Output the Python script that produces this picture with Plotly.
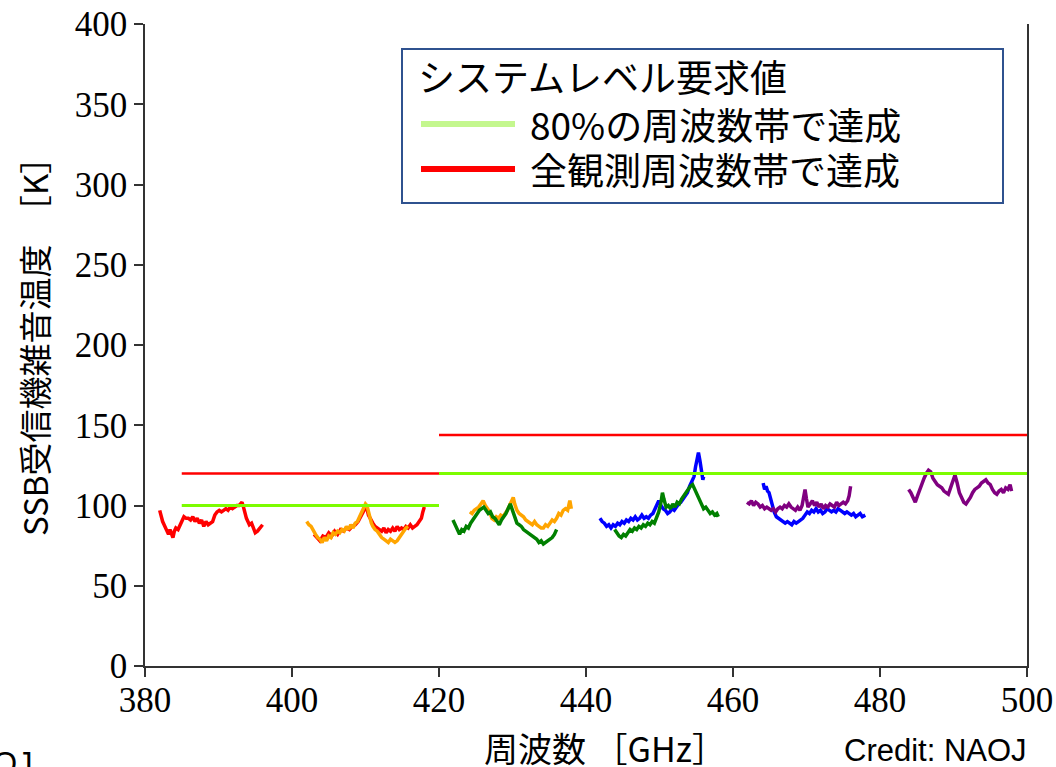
import plotly.graph_objects as go

# ---------------- data ----------------
red1_x = [382.0, 382.2, 382.4, 382.6, 382.8, 383.0, 383.2, 383.4, 383.6, 383.8, 384.0, 384.2, 384.5, 384.8, 385.0, 385.3, 385.6, 385.9, 386.2, 386.5, 386.8, 387.1, 387.4, 387.7, 388.0, 388.3, 388.6, 388.9, 389.2, 389.5, 389.8, 390.1, 390.4, 390.7, 391.0, 391.3, 391.6, 391.9, 392.2, 392.5, 392.8, 393.0, 393.2, 393.4, 393.6, 393.8, 394.0, 394.2, 394.5, 394.8, 395.0, 395.3, 395.6, 396.0]
red1_y = [97, 93, 90, 88, 86, 84, 82, 85, 83, 80, 84, 86, 85, 88, 90, 93, 92, 92, 91, 93, 90, 92, 89, 91, 87, 90, 88, 89, 90, 94, 96, 97, 96, 97, 98, 97, 99, 98, 99, 100, 100, 101, 102, 99, 95, 92, 90, 88, 89, 85, 83, 84, 86, 88]

red2_x = [403.0, 403.4, 403.8, 404.2, 404.6, 405.0, 405.4, 405.8, 406.2, 406.6, 407.0, 407.4, 407.8, 408.2, 408.6, 409.0, 409.4, 409.8, 410.0, 410.2, 410.4, 410.7, 411.0, 411.3, 411.6, 411.9, 412.2, 412.5, 412.8, 413.1, 413.4, 413.7, 414.0, 414.3, 414.6, 414.9, 415.2, 415.5, 415.8, 416.1, 416.4, 416.7, 417.0, 417.3, 417.6, 417.8, 418.0]
red2_y = [82, 80, 78, 81, 80, 83, 81, 84, 82, 85, 84, 86, 85, 87, 88, 90, 93, 97, 100, 98, 94, 91, 89, 87, 86, 85, 84, 86, 83, 85, 84, 86, 84, 87, 85, 86, 85, 87, 86, 88, 86, 87, 88, 90, 92, 96, 99]

orange1_x = [402.0, 402.3, 402.6, 402.9, 403.2, 403.5, 403.8, 404.1, 404.4, 404.7, 405.0, 405.3, 405.6, 405.9, 406.2, 406.5, 406.8, 407.1, 407.4, 407.7, 408.0, 408.3, 408.6, 408.9, 409.2, 409.5, 409.8, 410.0, 410.2, 410.4, 410.6, 410.8, 411.0, 411.3, 411.6, 411.9, 412.2, 412.5, 412.8, 413.1, 413.4, 413.7, 414.0, 414.3, 414.6, 414.9, 415.2, 415.5, 415.8]
orange1_y = [90, 88, 87, 84, 82, 80, 79, 77, 80, 78, 81, 80, 83, 82, 84, 83, 85, 84, 87, 85, 88, 86, 89, 90, 93, 96, 99, 101, 100, 96, 92, 89, 87, 85, 84, 82, 80, 79, 78, 77, 79, 78, 77, 78, 80, 82, 84, 86, 87]

orange2_x = [424.2, 424.5, 424.8, 425.1, 425.4, 425.7, 426.0, 426.3, 426.6, 426.9, 427.2, 427.5, 427.8, 428.1, 428.4, 428.7, 429.0, 429.3, 429.6, 429.9, 430.1, 430.3, 430.6, 430.9, 431.2, 431.5, 431.8, 432.1, 432.4, 432.7, 433.0, 433.3, 433.6, 433.9, 434.2, 434.5, 434.8, 435.1, 435.4, 435.7, 436.0, 436.3, 436.6, 436.9, 437.2, 437.5, 437.8, 438.0]
orange2_y = [96, 95, 97, 98, 99, 101, 103, 100, 98, 96, 92, 91, 93, 92, 94, 93, 95, 97, 100, 103, 105, 101, 97, 95, 94, 93, 91, 90, 89, 88, 90, 88, 87, 86, 86, 88, 87, 89, 91, 90, 92, 95, 94, 97, 98, 97, 103, 98]

green1_x = [421.9, 422.2, 422.5, 422.8, 423.1, 423.4, 423.7, 424.0, 424.3, 424.6, 424.9, 425.2, 425.5, 425.8, 426.1, 426.4, 426.7, 427.0, 427.3, 427.6, 427.9, 428.2, 428.5, 428.8, 429.1, 429.4, 429.7, 430.0, 430.3, 430.6, 430.9, 431.2, 431.5, 431.8, 432.1, 432.4, 432.7, 433.0, 433.3, 433.6, 433.9, 434.2, 434.5, 434.8, 435.1, 435.4, 435.7, 436.0]
green1_y = [91, 88, 84, 82, 85, 84, 87, 86, 89, 91, 93, 95, 97, 98, 99, 97, 95, 96, 93, 92, 90, 88, 91, 93, 95, 98, 101, 97, 92, 89, 88, 87, 85, 84, 83, 82, 81, 80, 79, 77, 78, 76, 77, 78, 79, 80, 82, 85]

blue1_x = [441.9, 442.2, 442.5, 442.8, 443.1, 443.4, 443.7, 444.0, 444.3, 444.6, 444.9, 445.2, 445.5, 445.8, 446.1, 446.4, 446.7, 447.0, 447.3, 447.6, 447.9, 448.2, 448.5, 448.8, 449.1, 449.4, 449.7, 449.9, 450.2, 450.5, 450.8, 451.1, 451.4, 451.7, 452.0, 452.3, 452.6, 452.9, 453.2, 453.5, 453.8, 454.1, 454.4, 454.7, 454.9, 455.1, 455.3, 455.5, 455.7, 455.9, 456.0]
blue1_y = [92, 90, 89, 87, 88, 86, 88, 87, 89, 88, 90, 89, 91, 90, 92, 91, 93, 91, 92, 94, 92, 93, 92, 94, 95, 98, 101, 103, 100, 98, 97, 95, 96, 98, 97, 99, 101, 102, 104, 106, 108, 112, 115, 118, 124, 130, 133, 128, 120, 116, 118]

green2_x = [443.9, 444.2, 444.5, 444.8, 445.1, 445.4, 445.7, 446.0, 446.3, 446.6, 446.9, 447.2, 447.5, 447.8, 448.1, 448.4, 448.7, 449.0, 449.3, 449.6, 449.9, 450.2, 450.4, 450.6, 450.9, 451.2, 451.5, 451.8, 452.1, 452.4, 452.7, 453.0, 453.3, 453.6, 453.9, 454.2, 454.5, 454.8, 455.1, 455.4, 455.7, 456.0, 456.3, 456.6, 456.9, 457.2, 457.5, 457.8, 458.0]
green2_y = [85, 83, 81, 80, 82, 81, 83, 85, 84, 86, 85, 87, 86, 88, 87, 89, 88, 90, 89, 92, 96, 102, 108, 104, 99, 100, 98, 101, 99, 102, 101, 104, 106, 108, 110, 112, 113, 110, 106, 103, 100, 98, 99, 97, 95, 96, 94, 95, 93]

blue2_x = [464.1, 464.3, 464.5, 464.7, 464.9, 465.1, 465.3, 465.6, 465.9, 466.2, 466.5, 466.8, 467.1, 467.4, 467.7, 468.0, 468.3, 468.6, 468.9, 469.2, 469.5, 469.8, 470.1, 470.4, 470.7, 471.0, 471.3, 471.6, 471.9, 472.2, 472.5, 472.8, 473.1, 473.4, 473.7, 474.0, 474.3, 474.6, 474.9, 475.2, 475.5, 475.8, 476.1, 476.4, 476.7, 477.0, 477.3, 477.6, 478.0]
blue2_y = [114, 110, 112, 109, 108, 104, 100, 96, 93, 92, 91, 90, 89, 90, 89, 88, 90, 89, 90, 91, 92, 94, 96, 95, 97, 96, 98, 96, 97, 95, 96, 98, 97, 96, 97, 96, 98, 97, 96, 95, 96, 95, 94, 95, 93, 94, 95, 93, 94]

purple1_x = [461.9, 462.2, 462.5, 462.8, 463.1, 463.4, 463.7, 464.0, 464.3, 464.6, 464.9, 465.2, 465.5, 465.8, 466.1, 466.4, 466.7, 467.0, 467.3, 467.6, 467.9, 468.2, 468.5, 468.8, 469.1, 469.4, 469.6, 469.8, 470.0, 470.2, 470.5, 470.8, 471.1, 471.4, 471.7, 472.0, 472.3, 472.6, 472.9, 473.2, 473.5, 473.8, 474.1, 474.4, 474.7, 475.0, 475.3, 475.6, 475.8, 476.0]
purple1_y = [102, 101, 103, 100, 102, 101, 99, 100, 98, 99, 98, 97, 98, 96, 98, 99, 98, 100, 99, 101, 99, 98, 97, 99, 97, 100, 105, 110, 104, 99, 101, 103, 100, 102, 99, 101, 98, 100, 99, 101, 100, 99, 102, 100, 101, 102, 101, 103, 106, 112]

purple2_x = [483.9, 484.2, 484.5, 484.8, 485.1, 485.4, 485.7, 486.0, 486.3, 486.6, 486.9, 487.2, 487.5, 487.8, 488.1, 488.4, 488.7, 489.0, 489.3, 489.6, 489.9, 490.2, 490.5, 490.8, 491.1, 491.4, 491.7, 492.0, 492.3, 492.6, 492.9, 493.2, 493.5, 493.8, 494.1, 494.4, 494.7, 495.0, 495.3, 495.6, 495.9, 496.2, 496.5, 496.8, 497.1, 497.4, 497.7, 497.9]
purple2_y = [110, 108, 105, 102, 106, 110, 114, 117, 120, 122, 121, 117, 115, 113, 112, 111, 109, 108, 107, 111, 116, 119, 114, 108, 105, 102, 101, 103, 105, 108, 110, 111, 112, 114, 115, 116, 114, 113, 110, 108, 107, 109, 110, 108, 111, 110, 113, 109]

# system-level requirements (two bands)
req_band_x = [[385, 420], [420, 500]]
req80_y = [100, 120]      # 80% of band
reqall_y = [120, 144]     # entire band

x_ticks = [380, 400, 420, 440, 460, 480, 500]
y_ticks = [0, 50, 100, 150, 200, 250, 300, 350, 400]

legend_title = "システムレベル要求値"
legend_labels = ["80%の周波数帯で達成", "全観測周波数帯で達成"]
x_title = "周波数 ［GHz］"
y_title = "SSB受信機雑音温度　［K］"
credit = "Credit: NAOJ"

# ---------------- figure ----------------
C_RED = "#ff0000"
C_LIME = "#7cfc00"
fig = go.Figure()

curves = [
    (red1_x, red1_y, "#ff0000"),
    (red2_x, red2_y, "#ff0000"),
    (orange1_x, orange1_y, "#ffa500"),
    (orange2_x, orange2_y, "#ffa500"),
    (green1_x, green1_y, "#008000"),
    (blue1_x, blue1_y, "#0000ff"),
    (green2_x, green2_y, "#008000"),
    (blue2_x, blue2_y, "#0000ff"),
    (purple1_x, purple1_y, "#800080"),
    (purple2_x, purple2_y, "#800080"),
]
for xs, ys, col in curves:
    fig.add_trace(go.Scatter(x=xs, y=ys, mode="lines",
                             line=dict(color=col, width=3.5), showlegend=False,
                             hoverinfo="skip"))

for bx, yv in zip(req_band_x, reqall_y):
    fig.add_trace(go.Scatter(x=bx, y=[yv, yv], mode="lines",
                             line=dict(color=C_RED, width=2.5), showlegend=False))
for bx, yv in zip(req_band_x, req80_y):
    fig.add_trace(go.Scatter(x=bx, y=[yv, yv], mode="lines",
                             line=dict(color=C_LIME, width=3), showlegend=False))

# plot area geometry (px)
L, R, T, B = 145, 1027, 24, 666
W, H = R - L, B - T
def px(x):
    return (x - L) / W
def py(y):
    return (B - y) / H

JP = "Noto Sans CJK JP"
SERIF = "Liberation Serif, Times New Roman, serif"
shapes = [
    dict(type="rect", xref="paper", yref="paper", x0=px(402), x1=px(1003),
         y0=py(203), y1=py(49), line=dict(color="#2f528f", width=2),
         fillcolor="white", layer="above"),
    dict(type="line", xref="paper", yref="paper", x0=px(421), x1=px(515),
         y0=py(124), y1=py(124), line=dict(color="#c4f78e", width=6)),
    dict(type="line", xref="paper", yref="paper", x0=px(421), x1=px(515),
         y0=py(169), y1=py(169), line=dict(color=C_RED, width=6)),
]
annotations = [
    dict(text=legend_title, xref="paper", yref="paper", x=px(416), y=py(76),
         xanchor="left", yanchor="middle", showarrow=False,
         font=dict(family=JP, size=37, color="black")),
    dict(text=legend_labels[0], xref="paper", yref="paper", x=px(528), y=py(124),
         xanchor="left", yanchor="middle", showarrow=False,
         font=dict(family=JP, size=37, color="black")),
    dict(text=legend_labels[1], xref="paper", yref="paper", x=px(528), y=py(169),
         xanchor="left", yanchor="middle", showarrow=False,
         font=dict(family=JP, size=37, color="black")),
    dict(text=x_title, xref="paper", yref="paper", x=px(605), y=py(748),
         xanchor="center", yanchor="middle", showarrow=False,
         font=dict(family=JP, size=34, color="black")),
    dict(text=y_title, xref="paper", yref="paper", x=px(34), y=py(339),
         xanchor="center", yanchor="middle", showarrow=False, textangle=-90,
         font=dict(family=JP, size=33, color="black")),
    dict(text=credit, xref="paper", yref="paper", x=px(1029), y=py(750),
         xanchor="right", yanchor="middle", showarrow=False,
         font=dict(family="Liberation Sans", size=31, color="black")),
    dict(text=credit, xref="paper", yref="paper", x=px(35), y=py(764),
         xanchor="right", yanchor="middle", showarrow=False,
         font=dict(family="Liberation Sans", size=31, color="black")),
]

axis_common = dict(showgrid=False, zeroline=False, ticks="outside", ticklen=9,
                   tickwidth=1.5, tickcolor="#333", showline=True, linewidth=1.5,
                   linecolor="#333", automargin=False,
                   tickfont=dict(family=SERIF, size=35, color="black"))

fig.update_layout(
    width=1056, height=767,
    margin=dict(l=L, r=1056 - R, t=T, b=767 - B),
    paper_bgcolor="white", plot_bgcolor="white",
    xaxis=dict(range=[380, 500], tickvals=x_ticks, ticklabelstandoff=-7, **axis_common),
    yaxis=dict(range=[0, 400], tickvals=y_ticks, mirror=True, **axis_common),
    shapes=shapes, annotations=annotations, showlegend=False,
)

fig.write_html("out.html", config={"displayModeBar": False},
               post_script="document.body.style.margin='0';document.body.style.overflow='hidden';")
